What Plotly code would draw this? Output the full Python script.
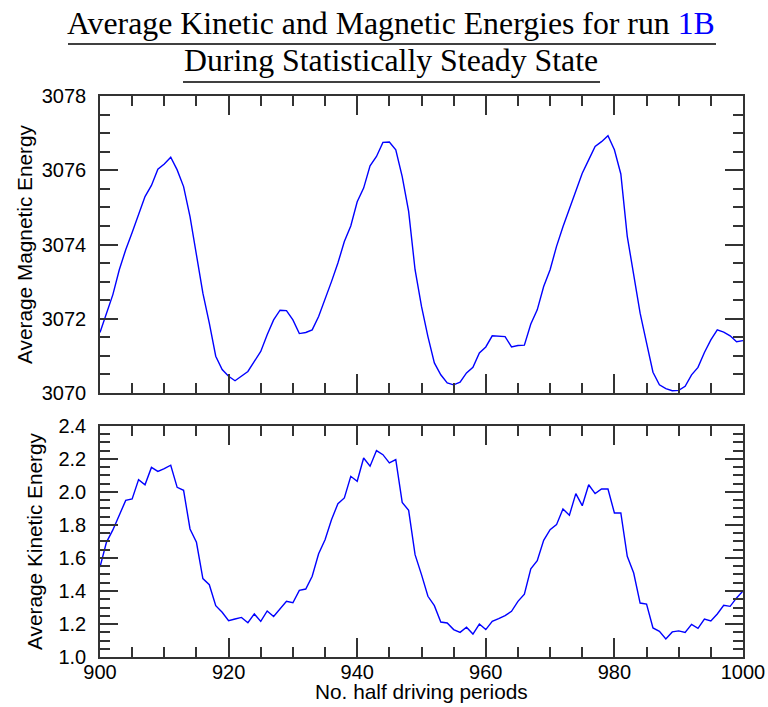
import plotly.graph_objects as go

# half driving periods sampled once per period
periods = list(range(900, 1001))

magnetic_energy = [
    3071.63, 3072.15, 3072.65, 3073.32, 3073.86, 3074.32, 3074.83, 3075.29, 3075.59, 3076.03,
    3076.17, 3076.35, 3076.01, 3075.56, 3074.75, 3073.77, 3072.69, 3071.88, 3070.99, 3070.63,
    3070.45, 3070.33, 3070.45, 3070.58, 3070.85, 3071.12, 3071.57, 3071.97, 3072.23, 3072.22,
    3071.97, 3071.60, 3071.63, 3071.70, 3072.06, 3072.51, 3073.00, 3073.50, 3074.08, 3074.50,
    3075.15, 3075.52, 3076.12, 3076.37, 3076.75, 3076.76, 3076.55, 3075.83, 3074.89, 3073.32,
    3072.33, 3071.52, 3070.81, 3070.49, 3070.27, 3070.22, 3070.29, 3070.54, 3070.69, 3071.08,
    3071.24, 3071.54, 3071.54, 3071.52, 3071.24, 3071.28, 3071.29, 3071.86, 3072.24, 3072.87,
    3073.32, 3073.95, 3074.48, 3074.98, 3075.43, 3075.92, 3076.28, 3076.64, 3076.77, 3076.93,
    3076.55, 3075.90, 3074.22, 3073.14, 3072.15, 3071.35, 3070.56, 3070.22, 3070.12, 3070.06,
    3070.07, 3070.18, 3070.49, 3070.69, 3071.09, 3071.43, 3071.70, 3071.64, 3071.54, 3071.38,
    3071.41,
]

kinetic_energy = [
    1.545, 1.695, 1.770, 1.863, 1.949, 1.958, 2.075, 2.044, 2.149, 2.125,
    2.141, 2.162, 2.028, 2.010, 1.776, 1.695, 1.475, 1.438, 1.311, 1.271,
    1.220, 1.230, 1.240, 1.208, 1.261, 1.216, 1.279, 1.246, 1.291, 1.337,
    1.329, 1.404, 1.412, 1.489, 1.626, 1.711, 1.832, 1.929, 1.964, 2.095,
    2.065, 2.206, 2.156, 2.251, 2.226, 2.176, 2.196, 1.937, 1.889, 1.620,
    1.499, 1.368, 1.311, 1.212, 1.206, 1.166, 1.149, 1.180, 1.139, 1.200,
    1.166, 1.216, 1.232, 1.251, 1.277, 1.337, 1.381, 1.534, 1.584, 1.707,
    1.772, 1.802, 1.897, 1.859, 1.990, 1.917, 2.044, 1.990, 2.018, 2.018,
    1.873, 1.873, 1.610, 1.509, 1.327, 1.321, 1.176, 1.156, 1.109, 1.152,
    1.158, 1.149, 1.198, 1.174, 1.230, 1.218, 1.261, 1.313, 1.307, 1.358,
    1.400,
]

title_line1 = 'Average Kinetic and Magnetic Energies for run <span style="color:#0000ff">1B</span>'
title_line2 = "During Statistically Steady State"
x_title = "No. half driving periods"

LINE = "#0000ff"
AXIS = "#333333"
SANS = "Liberation Sans"
SERIF = "Liberation Serif"

fig = go.Figure()
fig.add_trace(go.Scatter(x=periods, y=magnetic_energy, mode="lines",
                         line=dict(color=LINE, width=1.4), xaxis="x", yaxis="y",
                         showlegend=False))
fig.add_trace(go.Scatter(x=periods, y=kinetic_energy, mode="lines",
                         line=dict(color=LINE, width=1.4), xaxis="x2", yaxis="y2",
                         showlegend=False))

common = dict(
    showline=True, linecolor=AXIS, linewidth=1.5, mirror="ticks",
    ticks="inside", tickwidth=1.5, tickcolor=AXIS,
    showgrid=False, zeroline=False, automargin=False,
    tickfont=dict(family=SANS, size=20, color="black"),
)

x_common = dict(common, range=[900, 1000], tick0=900, dtick=20, ticklen=19,
                minor=dict(ticks="inside", dtick=5, ticklen=10, tickwidth=1.5,
                           tickcolor=AXIS))

fig.update_layout(
    width=768, height=707,
    margin=dict(l=100, r=25, t=96, b=50),
    paper_bgcolor="white", plot_bgcolor="white",
    xaxis=dict(x_common, anchor="y", showticklabels=False),
    yaxis=dict(common, domain=[0.4706, 1.0], range=[3070, 3078], tick0=3070, dtick=2,
               ticklen=18, ticklabelstandoff=8,
               minor=dict(ticks="inside", dtick=0.5, ticklen=10, tickwidth=1.5,
                          tickcolor=AXIS),
               title=dict(text="Average Magnetic Energy", standoff=3,
                          font=dict(family=SANS, size=20.8, color="black"))),
    xaxis2=dict(x_common, anchor="y2", ticklabelstandoff=-4),
    yaxis2=dict(common, domain=[0.0, 0.4118], range=[1.0, 2.4], tick0=1.0, dtick=0.2,
                tickformat=".1f", ticklen=18, ticklabelstandoff=8,
                minor=dict(ticks="inside", dtick=0.05, ticklen=10, tickwidth=1.5,
                           tickcolor=AXIS),
                title=dict(text="Average Kinetic Energy", standoff=10,
                           font=dict(family=SANS, size=20.8, color="black"))),
)

# x-axis caption under the lower panel
fig.add_annotation(text=x_title, xref="paper", yref="paper", x=0.5, y=-0.062,
                   xanchor="center", yanchor="middle", showarrow=False,
                   font=dict(family=SANS, size=20.8, color="black"))

# two-line heading, each line underlined
fig.add_annotation(text=title_line1, xref="paper", yref="paper", x=0.4526, y=1.1300,
                   xanchor="center", yanchor="middle", showarrow=False,
                   font=dict(family=SERIF, size=31.8, color="black"))
fig.add_annotation(text=title_line2, xref="paper", yref="paper", x=0.4526, y=1.0625,
                   xanchor="center", yanchor="middle", showarrow=False,
                   font=dict(family=SERIF, size=31.8, color="black"))
fig.add_shape(type="line", xref="paper", yref="paper", x0=-0.0498, x1=0.9580,
              y0=1.0927, y1=1.0927, line=dict(color="black", width=1.5))
fig.add_shape(type="line", xref="paper", yref="paper", x0=0.1291, x1=0.7776,
              y0=1.0250, y1=1.0250, line=dict(color="black", width=1.5))

fig.write_html("out.html")
